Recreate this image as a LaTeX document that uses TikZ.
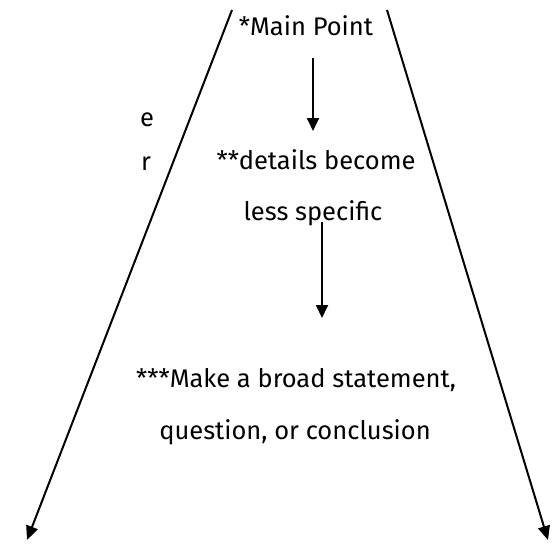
\documentclass[tikz,border=0pt]{standalone}
\usepackage{fontspec}
\setmainfont{Fira Sans}
\usetikzlibrary{positioning,arrows.meta}
\tikzset{
  flowarrow/.style={-{Triangle[length=13pt,width=12pt]}, line width=1.8pt},
  sidearrow/.style={-{Triangle[length=14pt,width=12pt]}, line width=2pt},
  steptext/.style={font=\fontsize{25.5}{30}\selectfont, inner sep=0pt, anchor=base},
  cuttext/.style={font=\fontsize{25.5}{30}\selectfont, inner sep=0pt, anchor=base west}
}

\begin{document}
\begin{tikzpicture}[x=1pt, y=-1pt]
  \useasboundingbox (0,0) rectangle (560,544);
  % words cut off on the left
  \node[cuttext] (cute) at (140,126) {e};
  \node[cuttext] (cutr) at (141,170) {r};
  % the funnel
  \coordinate (ltop) at (232,10);
  \coordinate (lend) at (27,540);
  \coordinate (rtop) at (387,10);
  \coordinate (rend) at (548,540);
  \draw[sidearrow] (ltop) -- (lend);
  \draw[sidearrow] (rtop) -- (rend);
  % texts
  \node[steptext] (mainpt) at (306,35) {*Main Point};
  \node[steptext] (details) at (316,169) {**details become};
  \node[steptext] (less) at (313,220) {less specific};
  \node[steptext] (broad) at (296,387) {***Make a broad statement,};
  \node[steptext] (question) at (295,439) {question, or conclusion};
  \draw[flowarrow] ([xshift=7pt,yshift=-23pt]mainpt.base) -- ([xshift=-3pt,yshift=38pt]details.base);
  \draw[flowarrow] ([xshift=9pt,yshift=-2pt]less.base) -- ([xshift=26pt,yshift=69pt]broad.base);
\end{tikzpicture}
\end{document}
